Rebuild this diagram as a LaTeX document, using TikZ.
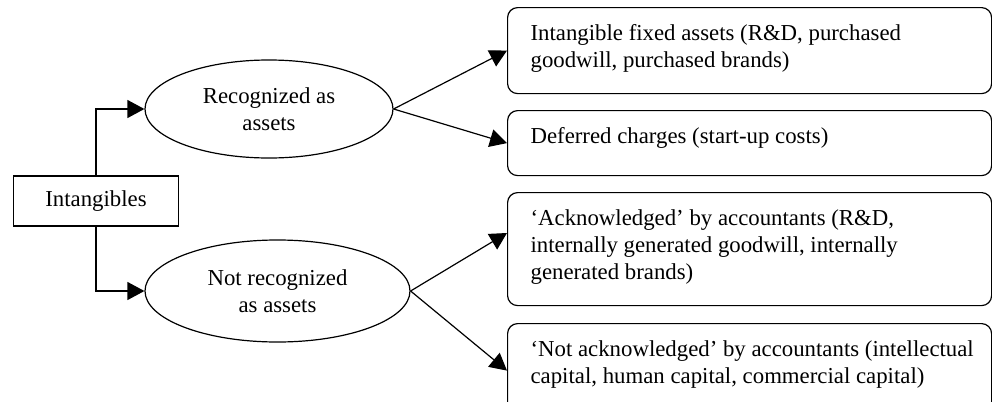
\documentclass[tikz,border=0pt]{standalone}
\usepackage{fontspec}
\setmainfont{Liberation Serif}
\usetikzlibrary{arrows.meta, shapes.geometric}

\newcommand{\boxtext}[2]{\parbox[c][#1][t]{242pt}{\raggedright\leftskip=11.5pt\rule{0pt}{16.5pt}#2}}

\begin{document}
\begin{tikzpicture}[x=0.5pt, y=-0.5pt]

\tikzset{
  every node/.style={font=\fontsize{11.4}{13.5}\selectfont},
  rootbox/.style={rectangle, draw, line width=0.6pt, minimum width=82.5pt, minimum height=25pt, inner sep=0pt},
  classnode/.style={ellipse, draw, line width=0.6pt, inner sep=0pt, align=center},
  detailbox/.style={rectangle, draw, line width=0.6pt, rounded corners=5pt, anchor=north west, inner sep=0pt},
  >={Triangle[length=8.5pt, width=9pt]}
}

% --- Rahmen ---
\useasboundingbox (0,0) rectangle (992,402);
\clip (0,0) rectangle (992,402);

% --- Knoten (absolute Koordinaten, in Pixeln) ---
\node[rootbox] (int) at (96,201) {Intangibles};
\node[classnode, minimum width=124pt, minimum height=49pt] (rec) at (269,109) {Recognized as\\assets};
\node[classnode, minimum width=132.5pt, minimum height=51pt] (notrec) at (277.5,291) {Not recognized\\as assets};

\node[detailbox] (fixed) at (507,7) {\boxtext{43pt}{Intangible fixed assets (R\&D, purchased\\goodwill, purchased brands)}};
\node[detailbox] (deferred) at (507,110) {\boxtext{32.5pt}{Deferred charges (start-up costs)}};
\node[detailbox] (ackn) at (507,192) {\boxtext{56.5pt}{‘Acknowledged’ by accountants (R\&D,\\internally generated goodwill, internally\\generated brands)}};
\node[detailbox] (notackn) at (507,323) {\boxtext{47pt}{‘Not acknowledged’ by accountants (intellectual\\capital, human capital, commercial capital)}};

% --- Kanten ---
\draw[->, line width=0.6pt] (int.north) |- (rec.west);
\draw[->, line width=0.6pt] (int.south) |- (notrec.west);
\draw[->, line width=0.6pt] (rec.east) -- (fixed.west);
\draw[->, line width=0.6pt] (rec.east) -- (deferred.west);
\draw[->, line width=0.6pt] (notrec.east) -- ([yshift=-20.5pt]ackn.north west);
\draw[->, line width=0.6pt] (notrec.east) -- (notackn.west);

\end{tikzpicture}
\end{document}
